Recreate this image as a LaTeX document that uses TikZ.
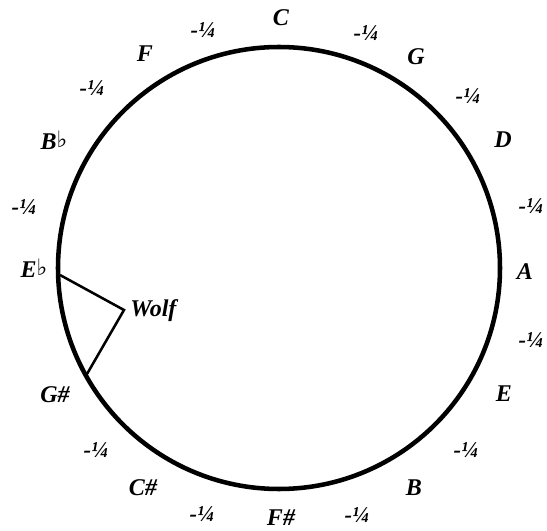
\documentclass[tikz,border=0pt]{standalone}
\usepackage{fontspec}
\setmainfont{Liberation Serif}
\newfontfamily\symfont{DejaVu Sans}
\newcommand{\myflat}{{\symfont\fontsize{17}{17}\selectfont\raisebox{0.15ex}{♭}}}
\begin{document}
\begin{tikzpicture}[x=0.75pt,y=-0.75pt,
  note/.style={font=\fontsize{18}{18}\selectfont\bfseries\itshape, inner sep=0pt},
  comma/.style={font=\fontsize{17}{17}\selectfont\bfseries\itshape, inner sep=0pt},
  ring/.style={line width=3.4pt},
  wolfline/.style={line width=1.9pt}]
\useasboundingbox (0,0) rectangle (547,531);
\coordinate (ctr) at (279,268);
\draw[ring] (ctr) circle[radius=221];
% notes
\node[note] (C) at (281,18) {C};
\node[note] (G) at (416,57) {G};
\node[note] (D) at (503,140) {D};
\node[note] (A) at (525,272) {A};
\node[note] (E) at (504,394) {E};
\node[note] (B) at (414,488) {B};
\node[note] (Fs) at (281,518) {F\#};
\node[note] (Cs) at (143,488) {C\#};
\node[note] (Gs) at (55,395) {G\#};
\node[note] (Eb) at (34,268) {E\myflat};
\node[note] (Bb) at (54,140) {B\myflat};
\node[note] (F) at (145,54) {F};
% quarter commas
\node[comma] (q1) at (366,33) {-¼};
\node[comma] (q2) at (468,96) {-¼};
\node[comma] (q3) at (531,206) {-¼};
\node[comma] (q4) at (531,340) {-¼};
\node[comma] (q5) at (466,450) {-¼};
\node[comma] (q6) at (357,515) {-¼};
\node[comma] (q7) at (202,514) {-¼};
\node[comma] (q8) at (96,450) {-¼};
\node[comma] (q9) at (24,207) {-¼};
\node[comma] (q10) at (92,88) {-¼};
\node[comma] (q11) at (203,30) {-¼};
% wolf
\coordinate (pEb) at (60,275);
\coordinate (pGs) at (87,374);
\coordinate (pW) at (124,310);
\node[note, anchor=west] (wolf) at (130,311) {Wolf};
\draw[wolfline, line join=miter] (pEb) -- (pW) -- (pGs);
\end{tikzpicture}
\end{document}
